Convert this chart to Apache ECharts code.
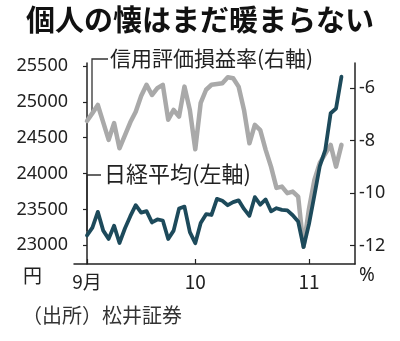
<!DOCTYPE html>
<html><head><meta charset="utf-8">
<script src="https://cdn.jsdelivr.net/npm/echarts@6/dist/echarts.min.js"></script>
<style>html,body{margin:0;padding:0;background:#fff}#c{width:400px;height:341px}</style>
</head><body><div id="c"></div>
<script>
// trading days (Oct 1 had no trading)
const dates = [
 '9/1','9/2','9/3','9/4','9/7','9/8','9/9','9/10','9/11','9/14','9/15','9/16','9/17','9/18','9/23','9/24','9/25','9/28','9/29','9/30',
 '10/2','10/5','10/6','10/7','10/8','10/9','10/12','10/13','10/14','10/15','10/16','10/19','10/20','10/21','10/22','10/23','10/26','10/27','10/28','10/29','10/30',
 '11/2','11/4','11/5','11/6','11/9','11/10','11/11'
];
// 日経平均 (円, left axis)
const nikkei = [
 23138,23247,23466,23205,23090,23274,23033,23235,23406,23559,23455,23476,23319,23360,23346,23088,23205,23512,23539,23185,
 23030,23312,23434,23423,23647,23620,23559,23602,23627,23507,23411,23671,23567,23639,23474,23517,23494,23486,23419,23332,22977,
 23295,23695,24105,24325,24840,24906,25350
];
// 信用評価損益率 (%, right axis)
const shinyo = [
 -7.25,-6.95,-6.64,-7.3,-7.97,-7.33,-8.29,-7.8,-7.3,-6.9,-6.3,-5.87,-6.26,-6.0,-5.87,-7.2,-6.83,-7.08,-5.94,-6.83,
 -8.33,-6.56,-6.06,-5.87,-5.84,-5.81,-5.58,-5.62,-5.94,-6.83,-8.1,-7.4,-7.6,-8.35,-9.0,-9.8,-9.75,-10.0,-9.94,-10.13,-12.04,
 -10.6,-9.5,-8.85,-8.5,-8.16,-8.99,-8.16
];
const monthLabels = {'9':'9月','10':'10','11':'11'};
const leftTicks = [23000,23500,24000,24500,25000,25500];
const rightTicks = [-12,-10,-8,-6];

const title = '個人の懐はまだ暖まらない';
const labelShinyo = '信用評価損益率(右軸)';
const labelNikkei = '日経平均(左軸)';
const unitLeft = '円';
const unitRight = '%';
const source = '（出所）松井証券';

// first trading day index of each month -> x ticks
const monthStarts = [];
dates.forEach((d,i)=>{const m=d.split('/')[0]; if(i===0 || dates[i-1].split('/')[0]!==m) monthStarts.push(i);});
const idxToLabel = {};
monthStarts.forEach(i=>{idxToLabel[i]=monthLabels[dates[i].split('/')[0]];});

const nikkeiData = nikkei.map((v,i)=>[i,v]);
const shinyoData = shinyo.map((v,i)=>[i,v]);

const numFont = 'Noto Sans';
const cjkFont = 'Noto Sans CJK JP';
const ink = '#222';

const chart = echarts.init(document.getElementById('c'), null, {renderer:'canvas'});
chart.setOption({
  animation:false,
  backgroundColor:'#fff',
  grid:{left:74,right:45,top:63,bottom:77},
  xAxis:{
    type:'value', min:-2.4, max:49.5,
    splitLine:{show:false},
    axisLine:{lineStyle:{color:ink,width:1.5}},
    axisTick:{inside:true,length:5,lineStyle:{color:ink,width:1.2},customValues:monthStarts},
    axisLabel:{customValues:monthStarts,formatter:v=>idxToLabel[v]||'',color:ink,fontSize:19,fontFamily:cjkFont,margin:8}
  },
  yAxis:[
    {type:'value',position:'left',min:22740,max:25540,
     splitLine:{show:false},
     axisLine:{show:true,lineStyle:{color:ink,width:1.5}},
     axisTick:{show:true,inside:false,length:4,lineStyle:{color:ink,width:1.2},customValues:leftTicks},
     axisLabel:{customValues:leftTicks,formatter:v=>String(v),color:ink,fontSize:18,fontFamily:numFont,margin:6}},
    {type:'value',position:'right',min:-12.7,max:-5.04,
     splitLine:{show:false},
     axisLine:{show:true,lineStyle:{color:ink,width:1.5}},
     axisTick:{show:true,inside:true,length:5,lineStyle:{color:ink,width:1.2},customValues:rightTicks},
     axisLabel:{customValues:rightTicks,formatter:v=>String(v),color:ink,fontSize:18,fontFamily:numFont,margin:4}}
  ],
  series:[
    {type:'line',yAxisIndex:1,data:shinyoData,showSymbol:false,z:2,
     lineStyle:{color:'#a9a9a9',width:4.5,join:'round',cap:'round'}},
    {type:'line',yAxisIndex:0,data:nikkeiData,showSymbol:false,z:3,
     lineStyle:{color:'#1d4a5b',width:3.8,join:'round',cap:'round'}}
  ],
  graphic:[
    {type:'text',x:200,y:5,style:{text:title,font:'bold 29px "'+cjkFont+'"',fill:'#111',align:'center',verticalAlign:'top'}},
    {type:'polyline',shape:{points:[[108,59],[92,59],[92,112]]},style:{stroke:'#333',lineWidth:1.3,fill:null}},
    {type:'text',x:110,y:48,style:{text:labelShinyo,font:'21px "'+cjkFont+'"',fill:ink,verticalAlign:'top'}},
    {type:'polyline',shape:{points:[[101,175],[87,175],[87,231]]},style:{stroke:'#333',lineWidth:1.3,fill:null}},
    {type:'text',x:104,y:163,style:{text:labelNikkei,font:'22px "'+cjkFont+'"',fill:ink,verticalAlign:'top'}},
    {type:'text',x:23,y:266,style:{text:unitLeft,font:'19px "'+cjkFont+'"',fill:ink,verticalAlign:'top'}},
    {type:'text',x:359,y:266,style:{text:unitRight,font:'19px "'+numFont+'"',fill:ink,verticalAlign:'top'}},
    {type:'text',x:22,y:305,style:{text:source,font:'20px "'+cjkFont+'"',fill:'#333',verticalAlign:'top'}}
  ]
});
</script></body></html>
